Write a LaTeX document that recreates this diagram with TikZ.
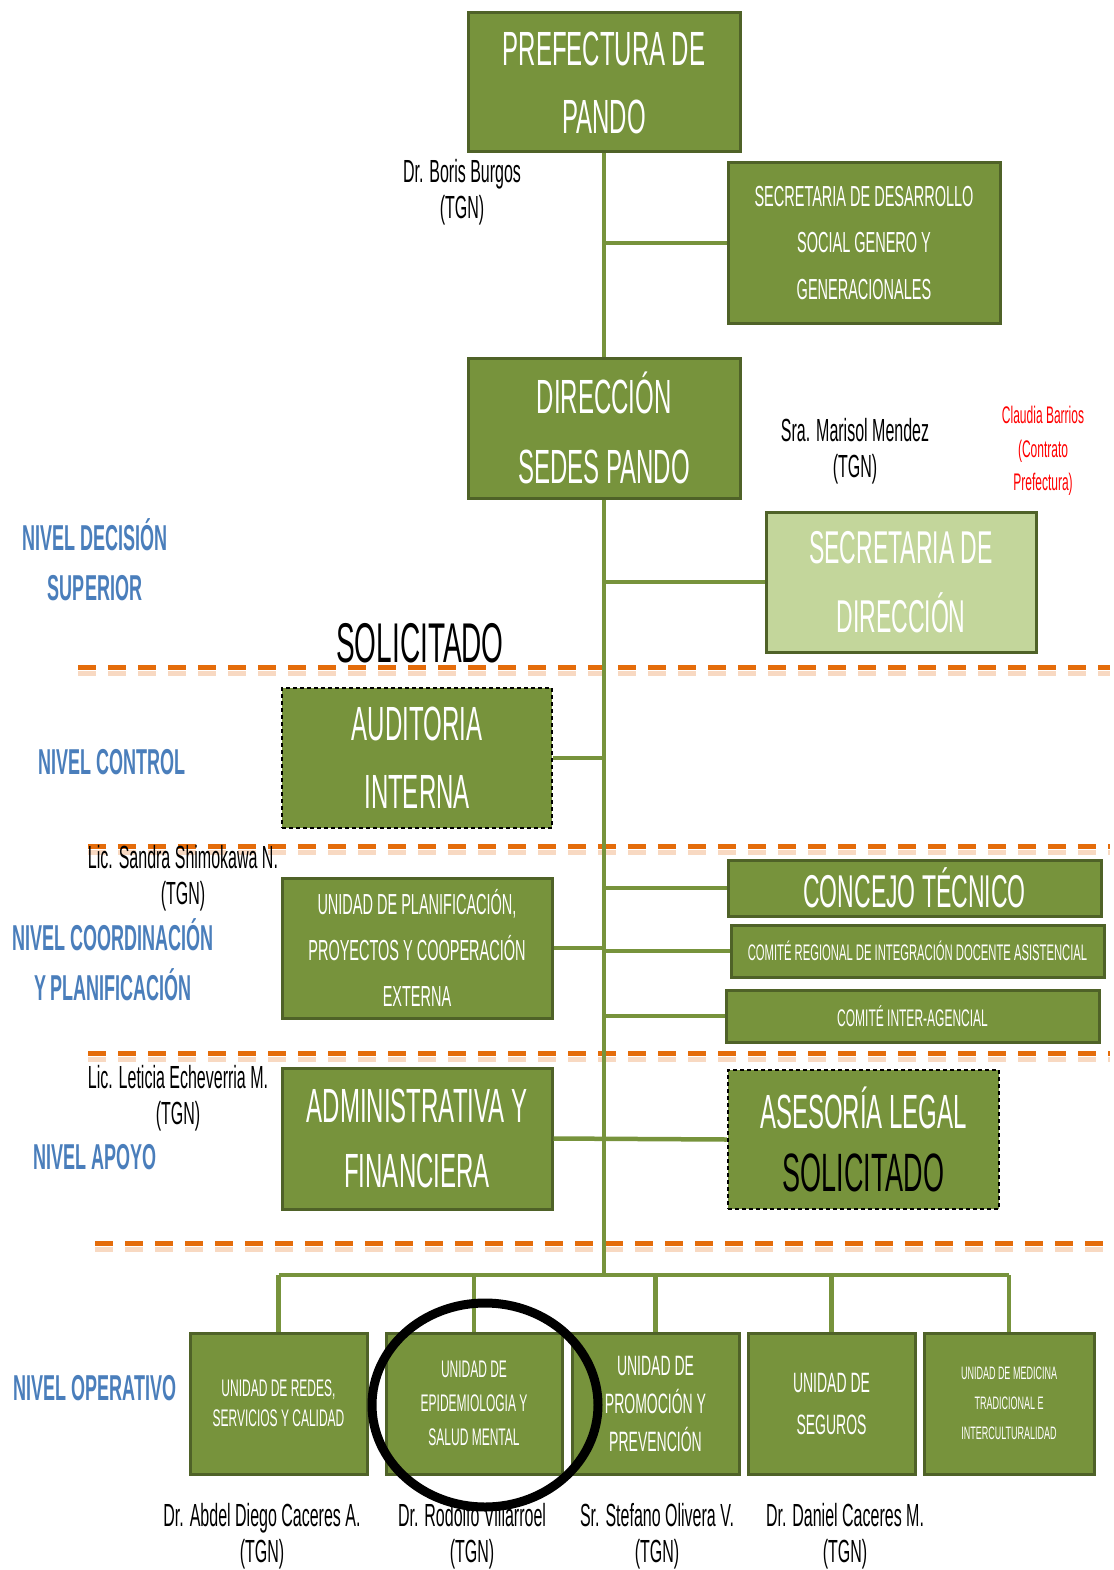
\documentclass[tikz,border=0pt]{standalone}
\usepackage{fontspec}
\setmainfont{Liberation Sans}[FakeStretch=0.5]
\usepackage{xcolor}
\usetikzlibrary{positioning}
\definecolor{boxgreen}{HTML}{77933C}
\definecolor{boxdark}{HTML}{4F6228}
\definecolor{boxlight}{HTML}{C3D69B}
\definecolor{cutorange}{HTML}{E46C0A}
\definecolor{cutpale}{HTML}{F8D9C2}
\definecolor{levelblue}{HTML}{4A7EBB}
\definecolor{notered}{HTML}{FF0000}
\newcommand{\fs}[2]{\fontsize{#1}{#2}\selectfont}

\begin{document}
\begin{tikzpicture}[x=1pt,y=-1pt,
 box/.style={draw=boxdark,fill=boxgreen,line width=3pt,text=white,align=center,inner sep=0pt},
 pending/.style={box,draw=black,line width=2.5pt,dash pattern=on 4pt off 3pt},
 big/.style={font=\fs{48}{68}},
 wire/.style={draw=boxgreen,line width=4.5pt},
 cut/.style={line width=5pt,dash pattern=on 18pt off 12pt},
 who/.style={align=center,font=\fs{32}{36}},
 level/.style={text=levelblue,align=center,font=\bfseries\fs{36}{50}}]
\useasboundingbox (0,0) rectangle (1113,1570);

% level separators
\foreach \yy/\xa in {667/78,846/88,1053/88,1243/95}{
 \draw[cut,cutpale] (\xa,\yy+6) -- (1110,\yy+6);
 \draw[cut,cutorange] (\xa,\yy) -- (1110,\yy);
}

% upper chain
\node[box,big,minimum width=272pt,minimum height=139pt] (pref) at (604,82.5) {PREFECTURA DE\\PANDO};
\node[box,font=\fs{29}{46.5},minimum width=272pt,minimum height=160pt] (secdes) at (864,243) {SECRETARIA DE DESARROLLO\\SOCIAL GENERO Y\\GENERACIONALES};
\node[box,big,font=\fs{48}{70},minimum width=272pt,minimum height=140pt] (dir) at (604,428) {DIRECCIÓN\\SEDES PANDO};
\node[box,fill=boxlight,font=\fs{46}{69},minimum width=270pt,minimum height=140pt] (secdir) at (901,582) {SECRETARIA DE\\DIRECCIÓN};
\node[pending,big,minimum width=270pt,minimum height=140pt] (aud) at (417,758) {AUDITORIA\\INTERNA};
\node[box,font=\fs{29}{46},minimum width=270pt,minimum height=140pt] (plan) at (417,948) {UNIDAD DE PLANIFICACIÓN,\\PROYECTOS Y COOPERACIÓN\\EXTERNA};
\node[box,font=\fs{46}{50},minimum width=373pt,minimum height=56pt] (concejo) at (914.5,888) {CONCEJO TÉCNICO};
\node[box,font=\fs{22.5}{24},minimum width=373pt,minimum height=52pt] (comreg) at (917.5,951) {COMITÉ REGIONAL DE INTEGRACIÓN DOCENTE ASISTENCIAL};
\node[box,font=\fs{24}{28},minimum width=373pt,minimum height=52pt] (cominter) at (912.5,1016) {COMITÉ INTER-AGENCIAL};
\node[box,font=\fs{48}{65},minimum width=270pt,minimum height=141pt] (admin) at (417,1138.5) {ADMINISTRATIVA Y\\FINANCIERA};
\node[pending,font=\fs{48}{63},minimum width=271pt,minimum height=139pt] (asesor) at (863.5,1139.5) {ASESORÍA LEGAL\\\textcolor{black}{\fs{54}{63}SOLICITADO}};

% operative units
\node[box,font=\fs{24}{30},minimum width=177pt,minimum height=141pt] (u1) at (278.5,1403.5) {UNIDAD DE REDES,\\SERVICIOS Y CALIDAD};
\node[box,font=\fs{24}{34},minimum width=176pt,minimum height=141pt] (u2) at (474,1403.5) {UNIDAD DE\\EPIDEMIOLOGIA Y\\SALUD MENTAL};
\node[box,font=\fs{28}{38},minimum width=167pt,minimum height=141pt] (u3) at (655.5,1403.5) {UNIDAD DE\\PROMOCIÓN Y\\PREVENCIÓN};
\node[box,font=\fs{28}{42},minimum width=167pt,minimum height=141pt] (u4) at (831.5,1403.5) {UNIDAD DE\\SEGUROS};
\node[box,font=\fs{18}{30},minimum width=170pt,minimum height=141pt] (u5) at (1009,1403.5) {UNIDAD DE MEDICINA\\TRADICIONAL E\\INTERCULTURALIDAD};

% connectors
\coordinate (bus) at (604,1275);
\draw[wire] (pref.south) -- (dir.north);
\draw[wire] (dir.south) -- (bus);
\draw[wire] (secdes.west) -- (secdes.west -| pref.south);
\draw[wire] (secdir.west) -- (secdir.west -| dir.south);
\draw[wire] (aud.east) -- (aud.east -| dir.south);
\draw[wire] (plan.east) -- (plan.east -| dir.south);
\draw[wire] (concejo.west) -- (concejo.west -| dir.south);
\draw[wire] (comreg.west) -- (comreg.west -| dir.south);
\draw[wire] (cominter.west) -- (cominter.west -| dir.south);
\draw[wire] (admin.east) -- (asesor.west);
\draw[wire] (u1.north |- bus) -- (u5.north |- bus);
\foreach \u in {u1,u2,u3,u4,u5}
 \draw[wire] (\u.north) -- (\u.north |- bus);

% level names
\node[level] (ldec) at (95,560) {NIVEL DECISIÓN\\SUPERIOR};
\node[level] (lcon) at (112,762) {NIVEL CONTROL};
\node[level] (lcoo) at (113,960) {NIVEL COORDINACIÓN\\Y PLANIFICACIÓN};
\node[level] (lapo) at (95,1157) {NIVEL APOYO};
\node[level] (lope) at (95,1388) {NIVEL OPERATIVO};

% staff names
\node[who] (boris) at (462,192) {Dr. Boris Burgos\\(TGN)};
\node[who] (marisol) at (855,451) {Sra. Marisol Mendez\\(TGN)};
\node[who,text=notered,font=\fs{24}{33.5}] (claudia) at (1043,451) {Claudia Barrios\\(Contrato\\Prefectura)};
\node[who] (sandra) at (183,878) {Lic. Sandra Shimokawa N.\\(TGN)};
\node[who] (leticia) at (178,1098) {Lic. Leticia Echeverria M.\\(TGN)};
\node[who] (abdel) at (262,1536) {Dr. Abdel Diego Caceres A.\\(TGN)};
\node[who] (rodolfo) at (472,1536) {Dr. Rodolfo Villarroel\\(TGN)};
\node[who] (stefano) at (657,1536) {Sr. Stefano Olivera V.\\(TGN)};
\node[who] (daniel) at (845,1536) {Dr. Daniel Caceres M.\\(TGN)};
\node[font=\fs{56}{60}] (solic) at (420,643) {SOLICITADO};

% highlight
\draw[line width=9pt] (485,1405) ellipse [x radius=113pt,y radius=102pt];
\end{tikzpicture}
\end{document}
